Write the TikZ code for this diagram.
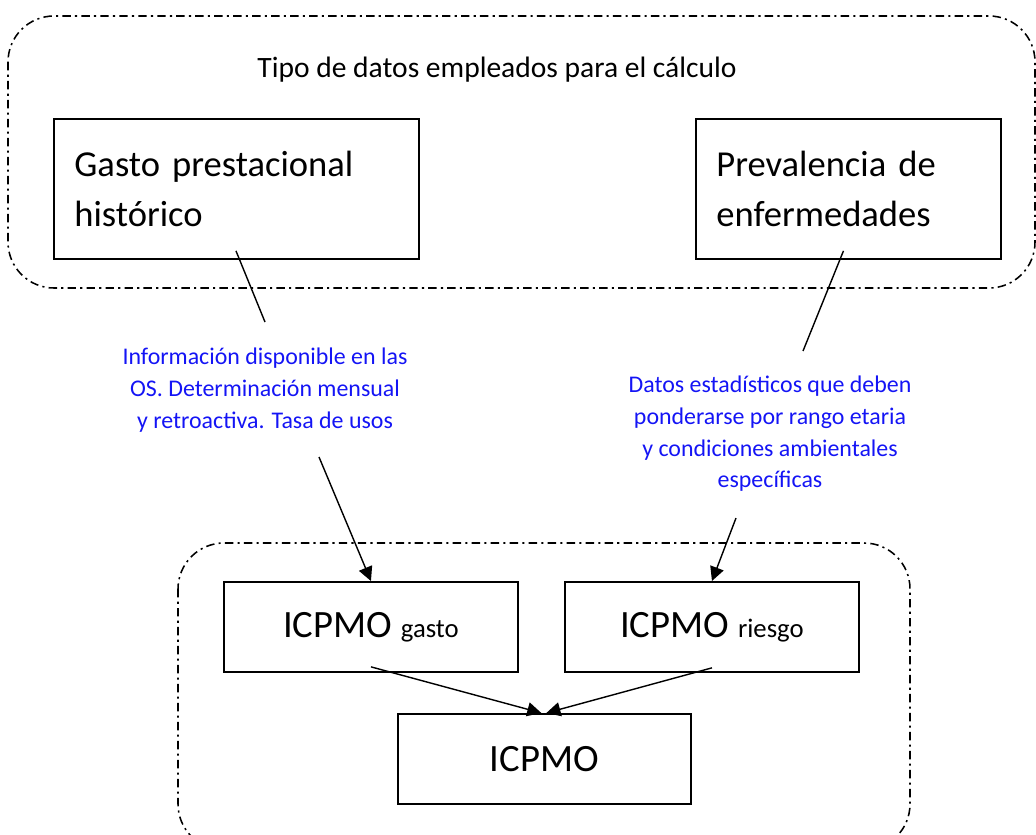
\documentclass[tikz,border=0pt]{standalone}
\usepackage{fontspec}
\setmainfont{Carlito}
\usepackage{xcolor}
\usetikzlibrary{arrows.meta, positioning, calc}
\definecolor{noteblue}{RGB}{20, 20, 245}

\begin{document}
\begin{tikzpicture}[
  x=0.025cm, y=-0.025cm,
  group/.style={draw, line width=1.1pt, rounded corners=1.15cm,
               dash pattern=on 6pt off 3pt on 1.5pt off 3pt},
  source/.style={rectangle, draw, line width=1.3pt, minimum height=3.5cm,
               align=left, inner xsep=0.45cm, anchor=north west,
               font=\fontsize{26}{35.5}\selectfont},
  index/.style={rectangle, draw, line width=1.3pt, minimum width=7.35cm,
               minimum height=2.25cm, anchor=north west,
               font=\fontsize{27.5}{32}\selectfont},
  note/.style={align=center, text=noteblue, font=\fontsize{17}{22.5}\selectfont},
  link/.style={line width=1pt},
  arrow/.style={-{Triangle[length=10pt, width=10pt]}, line width=1pt}
]
\useasboundingbox (0,0) rectangle (1036,834);

% grupos
\draw[group] (8,16) rectangle (1035,288);
\draw[group] (178,543) rectangle (910,850);

\node (titulo) at (497,70) {\fontsize{21}{25}\selectfont Tipo de datos empleados para el cálculo};

% fuentes de datos
\node[source, minimum width=9.125cm, text width=8.1cm] (gasto) at (53,118) {Gasto prestacional\\histórico};
\node[source, minimum width=7.625cm, text width=6.6cm] (preval) at (695,118) {Prevalencia de\\enfermedades};

\node[note] (info) at (265,390) {Información disponible en las\\OS. Determinación mensual\\y retroactiva. Tasa de usos};
\node[note] (datos) at (770,434) {Datos estadísticos que deben\\ponderarse por rango etaria\\y condiciones ambientales\\específicas};

% indices
\node[index] (icpmog) at (223,581) {ICPMO {\fontsize{19}{22}\selectfont gasto}};
\node[index] (icpmor) at (564,581) {ICPMO {\fontsize{19}{22}\selectfont riesgo}};
\node[index, minimum width=7.32cm] (icpmo) at (397,713) {ICPMO};

% extremos libres
\coordinate (finA) at (265,322);
\coordinate (finB) at (803,351);
\coordinate (iniA) at (319,457);
\coordinate (iniB) at (736,518);

\draw[link] ($(gasto.south)+(-0.5,-9)$) -- (finA);
\draw[link] ($(preval.south)+(-5,-9)$) -- (finB);

\draw[arrow] (iniA) -- (icpmog.north);
\draw[arrow] (iniB) -- (icpmor.north);
\draw[arrow] ($(icpmog.south)+(0,-6)$) -- ($(icpmo.north)+(-3,0)$);
\draw[arrow] ($(icpmor.south)+(0,-5)$) -- ($(icpmo.north)+(2,0)$);

\end{tikzpicture}
\end{document}
